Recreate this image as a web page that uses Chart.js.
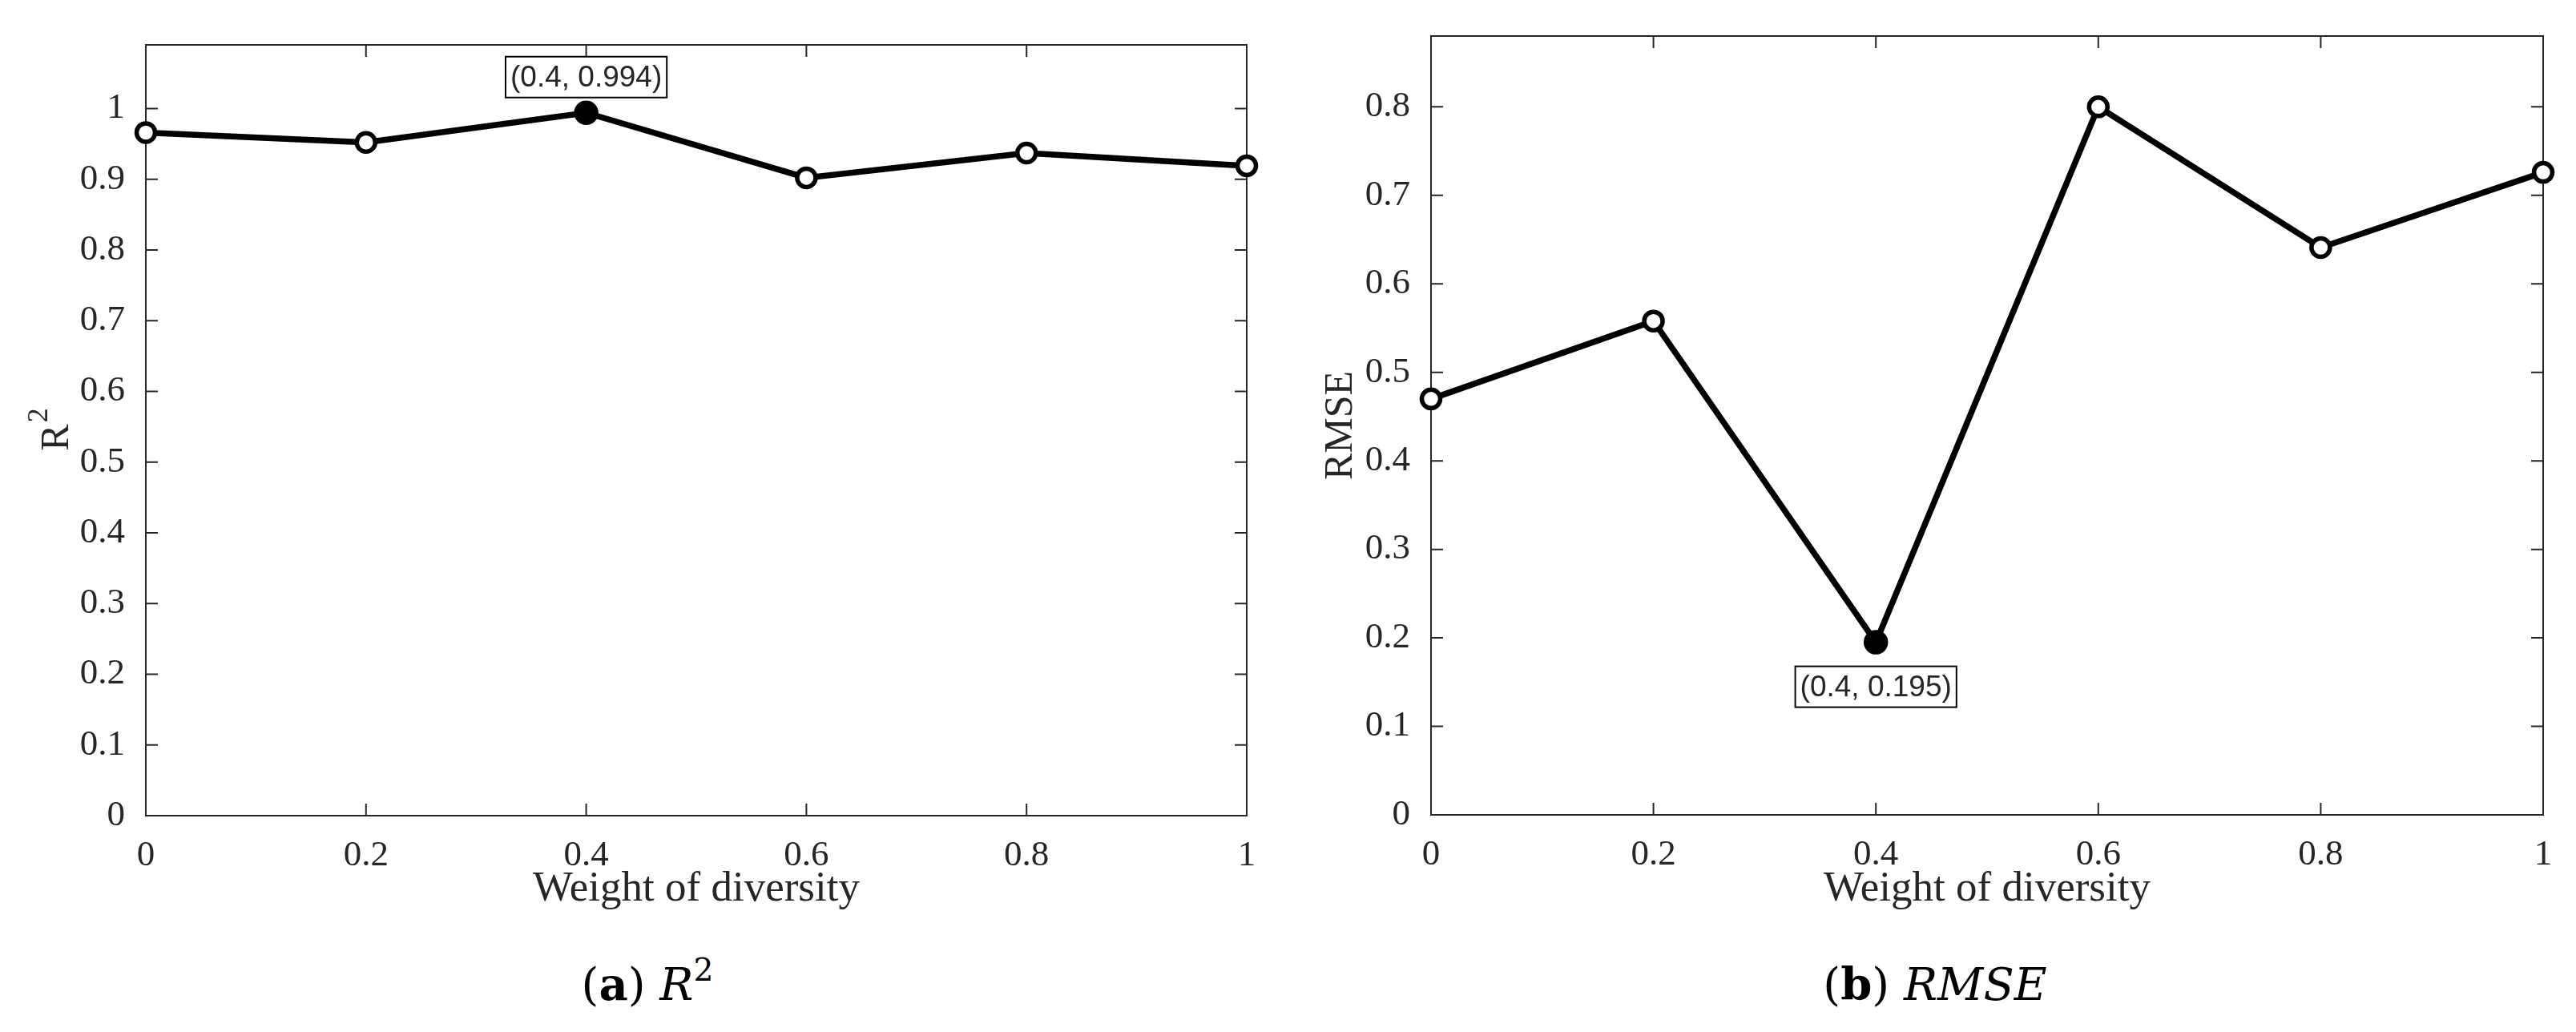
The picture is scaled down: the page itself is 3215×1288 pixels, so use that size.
<!DOCTYPE html>
<html>
<head>
<meta charset="utf-8">
<script src="https://cdn.jsdelivr.net/npm/chart.js@4.4.1/dist/chart.umd.min.js"></script>
<style>
  body { margin: 0; background: #fff; width: 3215px; height: 1288px; position: relative; overflow: hidden; }
  .box { position: absolute; top: 0; height: 1160px; }
  .caption { position: absolute; width: 600px; text-align: center; font-family: "DejaVu Serif", serif; font-size: 56px; line-height: 56px; color: #000; }
  .caption b { font-weight: bold; }
  .caption i { font-style: italic; }
  .caption sup { font-size: 0.7em; vertical-align: 0.6em; line-height: 0; }
</style>
</head>
<body>
<div class="box" style="left:0; width:1600px;"><canvas id="chartR2"></canvas></div>
<div class="box" style="left:1600px; width:1615px;"><canvas id="chartRmse"></canvas></div>
<div class="caption" style="left:508px; top:1200px;">(<b>a</b>) <i>R</i><sup>2</sup></div>
<div class="caption" style="left:2115px; top:1200px;">(<b>b</b>) <i>RMSE</i></div>

<script>
// data
const weights = [0, 0.2, 0.4, 0.6, 0.8, 1];
const r2Values = [0.966, 0.952, 0.994, 0.902, 0.937, 0.919];
const rmseValues = [0.470, 0.558, 0.195, 0.800, 0.641, 0.726];
const xTicks = [0, 0.2, 0.4, 0.6, 0.8, 1];
const r2Ticks = [0, 0.1, 0.2, 0.3, 0.4, 0.5, 0.6, 0.7, 0.8, 0.9, 1];
const rmseTicks = [0, 0.1, 0.2, 0.3, 0.4, 0.5, 0.6, 0.7, 0.8];

const axisColor = '#262626';
const tickFont = { family: 'Liberation Serif', size: 45 };

function fmt(v) {
    return String(Math.round(v * 10) / 10);
}

// box round the plot with inward ticks on every side (drawn before the line)
const boxPlugin = {
    id: 'boxPlugin',
    beforeDatasetsDraw(chart) {
        const { ctx, chartArea: a, scales: { x, y } } = chart;
        const len = 15;
        ctx.save();
        ctx.strokeStyle = axisColor;
        ctx.lineWidth = 2;
        ctx.strokeRect(a.left, a.top, a.right - a.left, a.bottom - a.top);
        ctx.beginPath();
        x.ticks.forEach(t => {
            const px = x.getPixelForValue(t.value);
            ctx.moveTo(px, a.bottom); ctx.lineTo(px, a.bottom - len);
            ctx.moveTo(px, a.top); ctx.lineTo(px, a.top + len);
        });
        y.ticks.forEach(t => {
            const py = y.getPixelForValue(t.value);
            ctx.moveTo(a.left, py); ctx.lineTo(a.left + len, py);
            ctx.moveTo(a.right, py); ctx.lineTo(a.right - len, py);
        });
        ctx.stroke();
        ctx.restore();
    }
};

// rotated y label with a superscript (R^2), centred on the plot height
const supTitlePlugin = {
    id: 'supTitle',
    afterDraw(chart, args, opts) {
        if (!opts.base) return;
        const { ctx, chartArea: a } = chart;
        const cy = (a.top + a.bottom) / 2;
        ctx.save();
        ctx.translate(opts.x, cy);
        ctx.rotate(-Math.PI / 2);
        ctx.fillStyle = axisColor;
        ctx.textBaseline = 'alphabetic';
        ctx.font = '50px "Liberation Serif"';
        const wBase = ctx.measureText(opts.base).width;
        ctx.font = '36px "Liberation Serif"';
        const wSup = ctx.measureText(opts.sup).width;
        const start = -(wBase + wSup) / 2;
        ctx.font = '50px "Liberation Serif"';
        ctx.fillText(opts.base, start, 16);
        ctx.font = '36px "Liberation Serif"';
        ctx.fillText(opts.sup, start + wBase + 2, -10);
        ctx.restore();
    }
};

// boxed data tip at the best point
const tipPlugin = {
    id: 'tipPlugin',
    afterDatasetsDraw(chart, args, opts) {
        const { ctx, scales: { x, y } } = chart;
        const i = opts.index;
        const values = chart.data.datasets[0].data;
        const px = x.getPixelForValue(values[i].x);
        const py = y.getPixelForValue(values[i].y);
        const text = '(' + values[i].x + ', ' + values[i].y + ')';
        ctx.save();
        ctx.font = '37px "Liberation Sans"';
        const w = ctx.measureText(text).width + 12;
        const h = 51;
        const top = opts.below ? py + 30 : py - 19 - h;
        ctx.fillStyle = '#fff';
        ctx.fillRect(px - w / 2, top, w, h);
        ctx.strokeStyle = '#000';
        ctx.lineWidth = 2;
        ctx.strokeRect(px - w / 2, top, w, h);
        ctx.fillStyle = axisColor;
        ctx.textAlign = 'center';
        ctx.textBaseline = 'middle';
        ctx.fillText(text, px, top + h / 2 + 2);
        ctx.restore();
    }
};

function makeChart(id, values, yTicks, yMax, yTitle, best, below, geo) {
    const points = weights.map((w, i) => ({ x: w, y: values[i] }));
    const ctx = document.getElementById(id).getContext('2d');
    return new Chart(ctx, {
        type: 'line',
        data: {
            datasets: [{
                data: points,
                borderColor: '#000',
                borderWidth: 7.5,
                tension: 0,
                clip: false,
                pointRadius: values.map((v, i) => i === best ? 12.5 : 11.5),
                pointBorderWidth: 5.5,
                pointBorderColor: '#000',
                pointBackgroundColor: values.map((v, i) => i === best ? '#000' : '#fff')
            }]
        },
        options: {
            responsive: true,
            maintainAspectRatio: false,
            animation: false,
            devicePixelRatio: 1,
            layout: { padding: { left: 0, top: geo.top, right: geo.right, bottom: 0 } },
            plugins: {
                legend: { display: false },
                tooltip: { enabled: false },
                tipPlugin: { index: best, below: below },
                supTitle: geo.sup || {}
            },
            scales: {
                x: {
                    type: 'linear',
                    min: 0,
                    max: 1,
                    afterBuildTicks: s => { s.ticks = xTicks.map(v => ({ value: v })); },
                    afterFit: s => { s.height = geo.xHeight; },
                    grid: { display: false },
                    border: { display: false },
                    ticks: { font: tickFont, color: axisColor, padding: 15, maxRotation: 0, callback: fmt },
                    title: {
                        display: true,
                        text: 'Weight of diversity',
                        color: axisColor,
                        font: { family: 'Liberation Serif', size: 53 },
                        padding: { top: 0, bottom: 18 }
                    }
                },
                y: {
                    min: 0,
                    max: yMax,
                    afterBuildTicks: s => { s.ticks = yTicks.map(v => ({ value: v })); },
                    afterFit: s => { s.width = geo.yWidth; },
                    grid: { display: false },
                    border: { display: false },
                    ticks: { font: tickFont, color: axisColor, padding: 18, callback: fmt },
                    title: {
                        display: !geo.sup,
                        text: yTitle,
                        color: axisColor,
                        font: { family: 'Liberation Serif', size: 50 },
                        padding: { top: geo.titlePad, bottom: 0 }
                    }
                }
            }
        },
        plugins: [boxPlugin, tipPlugin, supTitlePlugin]
    });
}

const r2Best = r2Values.indexOf(Math.max(...r2Values));
const rmseBest = rmseValues.indexOf(Math.min(...rmseValues));

makeChart('chartR2', r2Values, r2Ticks, 1.09, 'R²', r2Best, false,
    { top: 56, right: 44, yWidth: 182, xHeight: 142, titlePad: 39, sup: { base: 'R', sup: '2', x: 69 } });
makeChart('chartRmse', rmseValues, rmseTicks, 0.88, 'RMSE', rmseBest, true,
    { top: 45, right: 41, yWidth: 186, xHeight: 143, titlePad: 44 });
</script>
</body>
</html>
